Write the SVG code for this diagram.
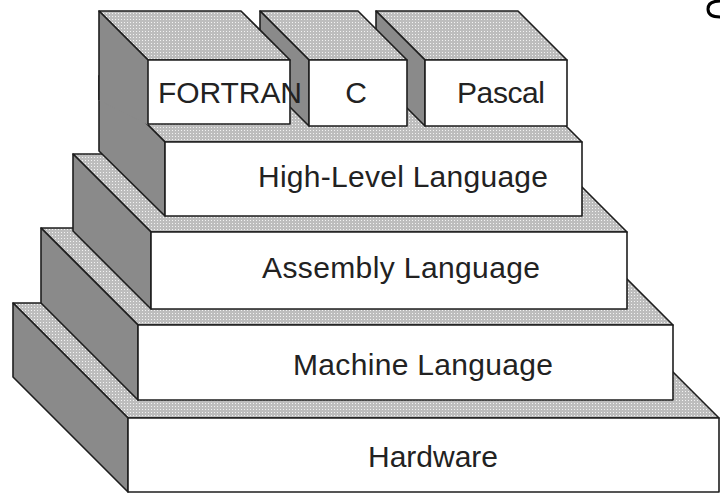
<svg xmlns="http://www.w3.org/2000/svg" width="720" height="493" viewBox="0 0 720 493">
  <defs>
    <pattern id="stipple" width="3" height="3" patternUnits="userSpaceOnUse">
      <rect width="3" height="3" fill="#bdbdbd"/>
      <rect x="1" y="1" width="1" height="1" fill="#f2f2f2"/>
    </pattern>
  </defs>
  <style>
    .top { fill: url(#stipple); stroke: #1e1e1e; stroke-width: 1.6; stroke-linejoin: round; }
    .side { fill: #8a8a8a; stroke: #1e1e1e; stroke-width: 1.6; stroke-linejoin: round; }
    .sidefill { fill: #8a8a8a; stroke: none; }
    .edge { fill: none; stroke: #1e1e1e; stroke-width: 1.6; stroke-linejoin: round; }
    .front { fill: #ffffff; stroke: #1e1e1e; stroke-width: 1.6; stroke-linejoin: round; }
    .label { font-family: "Liberation Sans", Arial, sans-serif; font-size: 30px; fill: #222222; }
  </style>
  <rect width="720" height="493" fill="#ffffff"/>

  <g id="hardware">
    <polygon class="top" points="128,418 719,418 604,303 13,303"/>
    <polygon class="side" points="128,418 13,303 13,377 128,492"/>
    <rect class="front" x="128" y="418" width="591" height="74"/>
    <text class="label" x="368" y="467" textLength="130" lengthAdjust="spacing">Hardware</text>
  </g>

  <g id="machine-language">
    <polygon class="top" points="138,325 673,325 576,228 41,228"/>
    <polygon class="side" points="138,325 41,228 41,303 138,400"/>
    <rect class="front" x="138" y="325" width="535" height="75"/>
    <text class="label" x="293" y="375" textLength="260" lengthAdjust="spacing">Machine Language</text>
  </g>

  <g id="assembly-language">
    <polygon class="top" points="151,232 627,232 549,154 73,154"/>
    <polygon class="side" points="151,232 73,154 73,231 151,309"/>
    <rect class="front" x="151" y="232" width="476" height="77"/>
    <text class="label" x="262" y="278" textLength="278" lengthAdjust="spacing">Assembly Language</text>
  </g>

  <g id="high-level-language">
    <polygon class="top" points="165,142 582,142 516,76 99,76"/>
    <polygon class="side" points="165,142 99,76 99,151 165,216"/>
    <rect class="front" x="165" y="142" width="417" height="74"/>
    <text class="label" x="258" y="187" textLength="290" lengthAdjust="spacing">High-Level Language</text>
  </g>

  <g id="pascal">
    <polygon class="top" points="425,60 567,60 518,11 376,11"/>
    <polygon class="side" points="425,60 376,11 376,77 425,126"/>
    <rect class="front" x="425" y="60" width="142" height="66"/>
    <text class="label" x="457" y="103" textLength="88" lengthAdjust="spacing">Pascal</text>
  </g>

  <g id="c">
    <polygon class="top" points="309,60 407,60 358,11 260,11"/>
    <polygon class="side" points="309,60 260,11 260,77 309,126"/>
    <rect class="front" x="309" y="60" width="98" height="66"/>
    <text class="label" x="356" y="103" text-anchor="middle">C</text>
  </g>

  <g id="fortran">
    <polygon class="top" points="148,60 290,60 241,11 99,11"/>
    <polygon class="sidefill" points="148,60 99,11 99,100 148,125"/>
    <polyline class="edge" points="148,60 99,11 99,100"/>
    <rect class="front" x="148" y="60" width="142" height="64"/>
    <text class="label" x="158" y="103" textLength="144" lengthAdjust="spacing">FORTRAN</text>
  </g>

  <g id="connectors"/>

  <path d="M 720 1 Q 708 1 708 9 Q 708 17 720 17" fill="none" stroke="#000000" stroke-width="3"/>
</svg>
